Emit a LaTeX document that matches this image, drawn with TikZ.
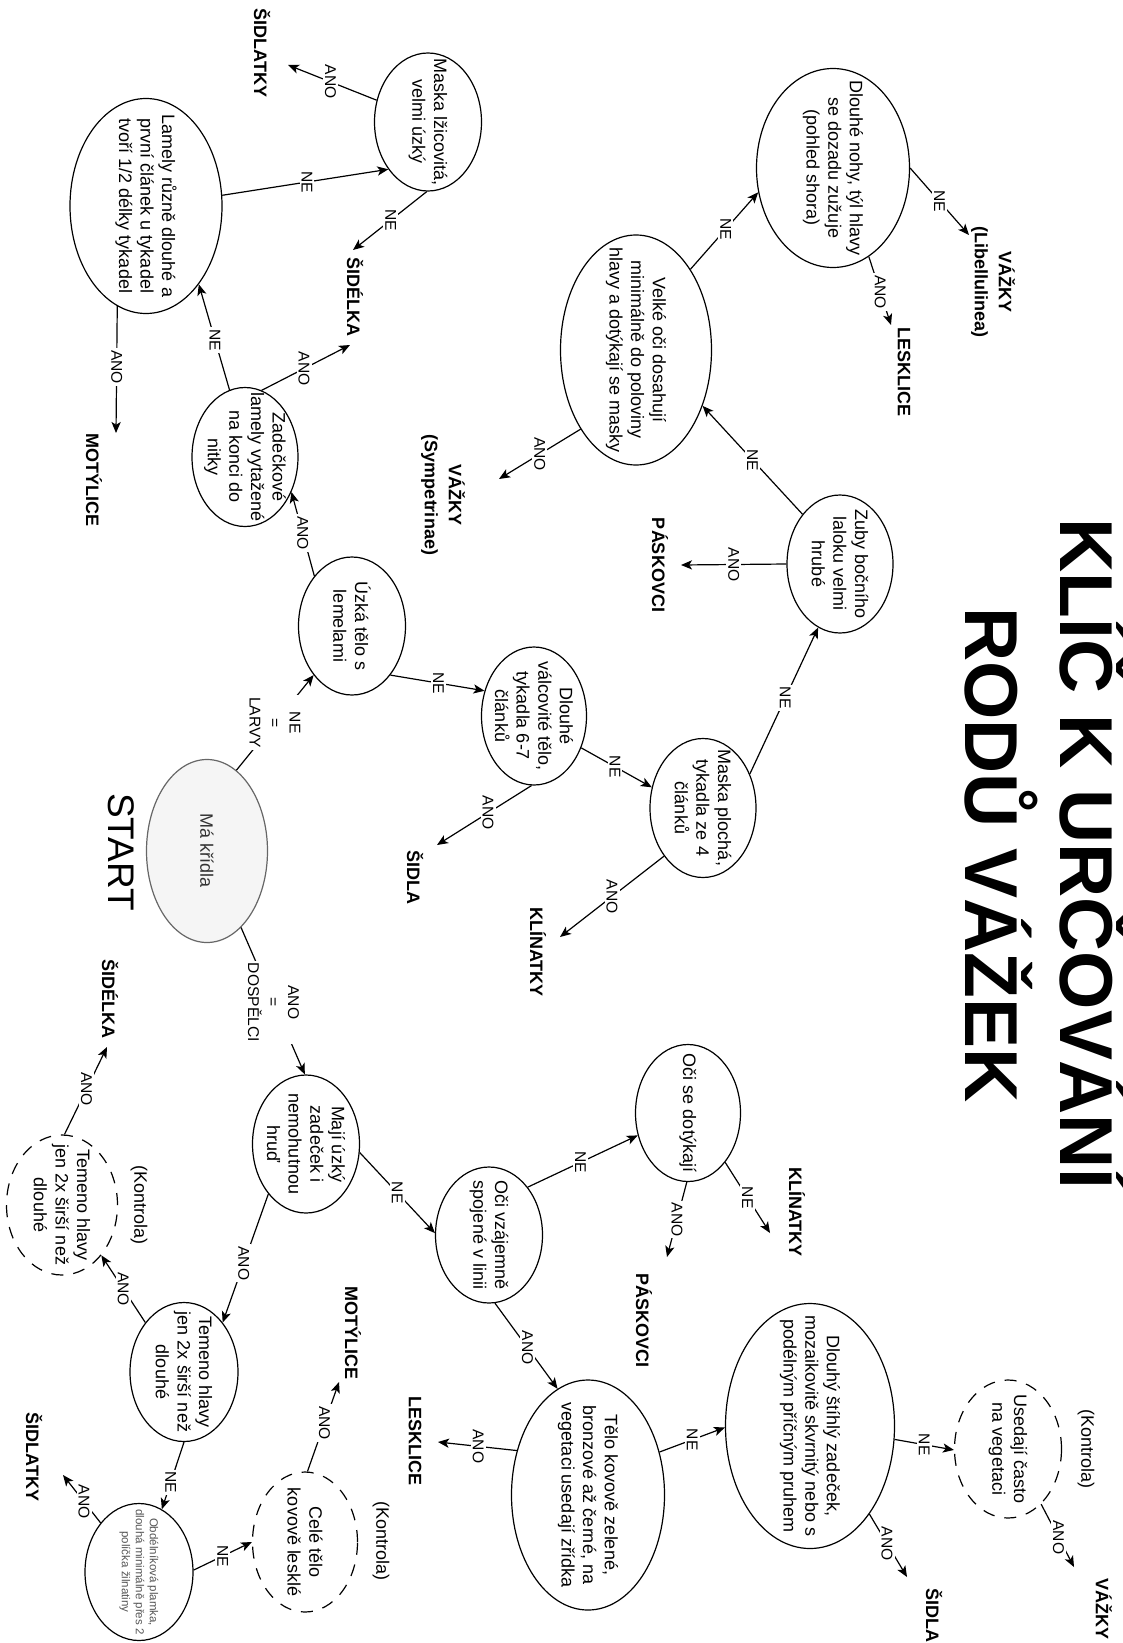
\documentclass[tikz,border=0pt]{standalone}
\usepackage{fontspec}
\setmainfont{Liberation Sans}
\usetikzlibrary{shapes.geometric,arrows.meta}
\definecolor{kgray}{HTML}{666666}
\definecolor{kfill}{HTML}{F5F5F5}
\definecolor{ktext}{HTML}{333333}
\definecolor{ksmall}{HTML}{555555}
\begin{document}
\begin{tikzpicture}[x=0.5pt,y=-0.5pt,
  ell/.style 2 args={ellipse,draw,line width=0.6pt,inner sep=0pt,minimum width=#1*0.5pt,minimum height=#2*0.5pt},
  ctrl/.style 2 args={ell={#1}{#2},dash pattern=on 6pt off 5pt},
  txt/.style={rotate=-90,align=center,font=\fontsize{9}{10.8}\selectfont,inner sep=0pt},
  leaf/.style={rotate=-90,align=center,font=\fontsize{9}{12}\selectfont\bfseries,inner sep=0pt},
  lbl/.style={rotate=-90,align=center,fill=white,inner sep=1pt,font=\fontsize{7.8}{10}\selectfont},
  arr/.style={line width=0.6pt,-{Stealth[length=5.5pt,width=4.6pt,inset=1.4pt]}},
  titletxt/.style={rotate=-90,anchor=base,inner sep=0pt,font=\fontsize{37.5}{40}\selectfont\bfseries}
]
\useasboundingbox (0,0) rectangle (1123,1643);

% title and start
\node[titletxt] (title1) at (1060,854) {KLÍČ K URČOVÁNÍ};
\node[titletxt] (title2) at (965,855) {RODŮ VÁŽEK};
\node[rotate=-90,anchor=base,inner sep=0pt,font=\fontsize{18.5}{20}\selectfont] (start) at (108,852) {START};

% decision ellipses
\node[ell={121}{183},fill=kfill,draw=kgray] (kridla) at (207,851) {};
\node[txt,text=ktext] (kridlaT) at (kridla) {Má křídla};

\node[ell={107}{138}] (maska) at (428,122) {};
\node[txt] (maskaT) at (maska) {Maska lžicovitá,\\velmi úzký};
\node[ell={152}{215}] (lamely) at (146,206) {};
\node[txt] (lamelyT) at (lamely) {Lamely různě dlouhé a\\první článek u tykadel\\tvoří 1/2 délky tykadel};
\node[ell={106}{139}] (zadeck) at (245,457) {};
\node[txt] (zadeckT) at (zadeck) {Zadečkové\\lamely vytažené\\na konci do\\nitky};
\node[ell={107}{138}] (uzka) at (352,626) {};
\node[txt] (uzkaT) at (uzka) {Úzká tělo s\\lemelami};
\node[ell={105}{138}] (dlval) at (534,716) {};
\node[txt] (dlvalT) at (dlval) {Dlouhé\\válcovité tělo,\\tykadla 6-7\\článků};
\node[ell={106}{139}] (maskap) at (703,808) {};
\node[txt] (maskapT) at (maskap) {Maska plochá,\\tykadla ze 4\\článků};
\node[ell={106}{138}] (zuby) at (840,564) {};
\node[txt] (zubyT) at (zuby) {Zuby bočního\\laloku velmi\\hrubé};
\node[ell={151}{230}] (velke) at (636,350) {};
\node[txt] (velkeT) at (velke) {Velké oči dosahují\\minimálně do poloviny\\hlavy a dotýkají se masky};
\node[ell={153}{199}] (dlnohy) at (833,168) {};
\node[txt] (dlnohyT) at (dlnohy) {Dlouhé nohy, týl hlavy\\se dozadu zužuje\\(pohled shora)};

\node[ell={107}{138}] (maji) at (306,1144) {};
\node[txt] (majiT) at (maji) {Mají úzký\\zadeček i\\nemohutnou\\hruď};
\node[ell={107}{136}] (ocivz) at (489,1235) {};
\node[txt] (ocivzT) at (ocivz) {Oči vzájemně\\spojené v linii};
\node[ell={105}{137}] (ocidot) at (688,1113) {};
\node[txt] (ocidotT) at (ocidot) {Oči se dotýkají};
\node[ell={153}{230}] (telo) at (588,1495) {};
\node[txt] (teloT) at (telo) {Tělo kovově zelené,\\bronzové až černé, na\\vegetaci usedají zřídka};
\node[ell={169}{245}] (dlouhy) at (810,1426) {};
\node[txt] (dlouhyT) at (dlouhy) {Dlouhý štíhlý zadeček,\\mozaikovitě skvrnitý nebo s\\podélným příčným pruhem};
\node[ctrl={107}{138}] (usedaji) at (1008,1449) {};
\node[txt] (usedajiT) at (usedaji) {Usedají často\\na vegetaci};
\node[txt] (kontrola3) at (1086,1449) {(Kontrola)};
\node[ell={108}{139}] (temeno) at (184,1372) {};
\node[txt] (temenoT) at (temeno) {Temeno hlavy\\jen 2x širší než\\dlouhé};
\node[ctrl={111}{140}] (temenok) at (62,1205) {};
\node[txt] (temenokT) at (temenok) {Temeno hlavy\\jen 2x širší než\\dlouhé};
\node[txt] (kontrola1) at (139,1205) {(Kontrola)};
\node[ell={108}{137}] (obdel) at (139,1572) {};
\node[txt,text=ksmall,font=\fontsize{5.75}{7}\selectfont] (obdelT) at (obdel) {Obdélníková plamka,\\dlouhá minimálně přes 2\\políčka žilnatiny};
\node[ctrl={105}{140}] (cele) at (305,1542) {};
\node[txt] (celeT) at (cele) {Celé tělo\\kovově lesklé};
\node[txt] (kontrola2) at (381,1541) {(Kontrola)};

% results
\node[leaf] (sidlatky1) at (262,53) {ŠIDLATKY};
\node[leaf] (sidelka1) at (355,297) {ŠIDÉLKA};
\node[leaf] (motylice1) at (94,480) {MOTÝLICE};
\node[leaf] (vazky2) at (443,495) {VÁŽKY\\(Sympetrinae)};
\node[leaf] (sidla2) at (415,877) {ŠIDLA};
\node[leaf] (klinatky1) at (538,952) {KLÍNATKY};
\node[leaf] (paskovci1) at (660,565) {PÁSKOVCI};
\node[leaf] (vazky1) at (993,282) {VÁŽKY\\(Libellulinea)};
\node[leaf] (lesklice1) at (904,372) {LESKLICE};
\node[leaf] (sidelka2) at (110,999) {ŠIDÉLKA};
\node[leaf] (klinatky2) at (797,1212) {KLÍNATKY};
\node[leaf] (paskovci2) at (644,1320) {PÁSKOVCI};
\node[leaf] (motylice2) at (353,1333) {MOTÝLICE};
\node[leaf] (lesklice2) at (415,1441) {LESKLICE};
\node[leaf] (sidlatky2) at (34,1457) {ŠIDLATKY};
\node[leaf] (sidla3) at (934,1615) {ŠIDLA};
\node[leaf] (vazky3) at (1104,1609) {VÁŽKY};

% arrow ends next to the results
\coordinate (t1) at (288,65);
\coordinate (t2) at (353,250);
\coordinate (t4) at (116,433);
\coordinate (t6) at (350,345);
\coordinate (t11) at (437,845);
\coordinate (t14) at (560,937);
\coordinate (t15) at (681,565);
\coordinate (t17) at (499,479);
\coordinate (t19) at (969,235);
\coordinate (t20) at (891,325);
\coordinate (t25) at (770,1233);
\coordinate (t26) at (667,1257);
\coordinate (t27) at (438,1442);
\coordinate (t30) at (907,1577);
\coordinate (t31) at (1074,1567);
\coordinate (t33) at (107,1047);
\coordinate (t35) at (63,1475);
\coordinate (t37) at (339,1382);

% connectors
\draw[arr] (maska.157) -- node[lbl,pos=.52] {ANO} (t1);
\draw[arr] (maska.269) -- node[lbl,pos=.49] {NE} (t2);
\draw[arr] (lamely.8) -- node[lbl,pos=.51] {NE} (maska.230);
\draw[arr] (lamely.254) -- node[lbl,pos=.48] {ANO} (t4);
\draw[arr] (zadeck.103) -- node[lbl,pos=.47] {NE} (lamely.304);
\draw[arr] (zadeck.76) -- node[lbl,pos=.48] {ANO} (t6);
\draw[arr] (uzka.127) -- node[lbl,pos=.51] {ANO} (zadeck.323);
\draw[arr] (uzka.308) -- node[lbl,pos=.51] {NE} (dlval.153);
\draw[arr] (kridla.70) -- node[lbl,pos=.5] {NE\\=\\LARVY} (uzka.232);
\draw[arr] (kridla.294) -- node[lbl,pos=.51] {ANO\\=\\DOSPĚLCI} (maji.91);
\draw[arr] (dlval.268) -- node[lbl,pos=.46] {ANO} (t11);
\draw[arr] (dlval.326) -- node[lbl,pos=.48] {NE} (maskap.158);
\draw[arr] (maskap.36) -- node[lbl,pos=.52] {NE} (zuby.251);
\draw[arr] (maskap.231) -- node[lbl,pos=.5] {ANO} (t14);
\draw[arr] (zuby.180) -- node[lbl,pos=.5] {ANO} (t15);
\draw[arr] (zuby.127) -- node[lbl,pos=.5] {NE} (velke.320);
\draw[arr] (velke.235) -- node[lbl,pos=.5] {ANO} (t17);
\draw[arr] (velke.56) -- node[lbl,pos=.52] {NE} (dlnohy.198);
\draw[arr] (dlnohy.0) -- node[lbl,pos=.5] {NE} (t19);
\draw[arr] (dlnohy.292) -- node[lbl,pos=.52] {ANO} (t20);
\draw[arr] (maji.351) -- node[lbl,pos=.5] {NE} (ocivz.178);
\draw[arr] (maji.233) -- node[lbl,pos=.54] {ANO} (temeno.52);
\draw[arr] (ocivz.51) -- node[lbl,pos=.48] {NE} (ocidot.204);
\draw[arr] (ocivz.275) -- node[lbl,pos=.52] {ANO} (telo.106);
\draw[arr] (ocidot.307) -- node[lbl,pos=.5] {NE} (t25);
\draw[arr] (ocidot.269) -- node[lbl,pos=.5] {ANO} (t26);
\draw[arr] (telo.148) -- node[lbl,pos=.49] {ANO} (t27);
\draw[arr] (telo.31) -- node[lbl,pos=.5] {NE} (dlouhy.181);
\draw[arr] (dlouhy.351) -- node[lbl,pos=.5] {NE} (usedaji.181);
\draw[arr] (dlouhy.304) -- node[lbl,pos=.47] {ANO} (t30);
\draw[arr] (usedaji.301) -- node[lbl,pos=.53] {ANO} (t31);
\draw[arr] (temeno.128) -- node[lbl,pos=.5] {ANO} (temenok.308);
\draw[arr] (temenok.88) -- node[lbl,pos=.52] {ANO} (t33);
\draw[arr] (temeno.270) -- node[lbl,pos=.6] {NE} (obdel.70);
\draw[arr] (obdel.128) -- node[lbl,pos=.44] {ANO} (t35);
\draw[arr] (obdel.2) -- node[lbl,pos=.5] {NE} (cele.180);
\draw[arr] (cele.88) -- node[lbl,pos=.54] {ANO} (t37);
\end{tikzpicture}
\end{document}
